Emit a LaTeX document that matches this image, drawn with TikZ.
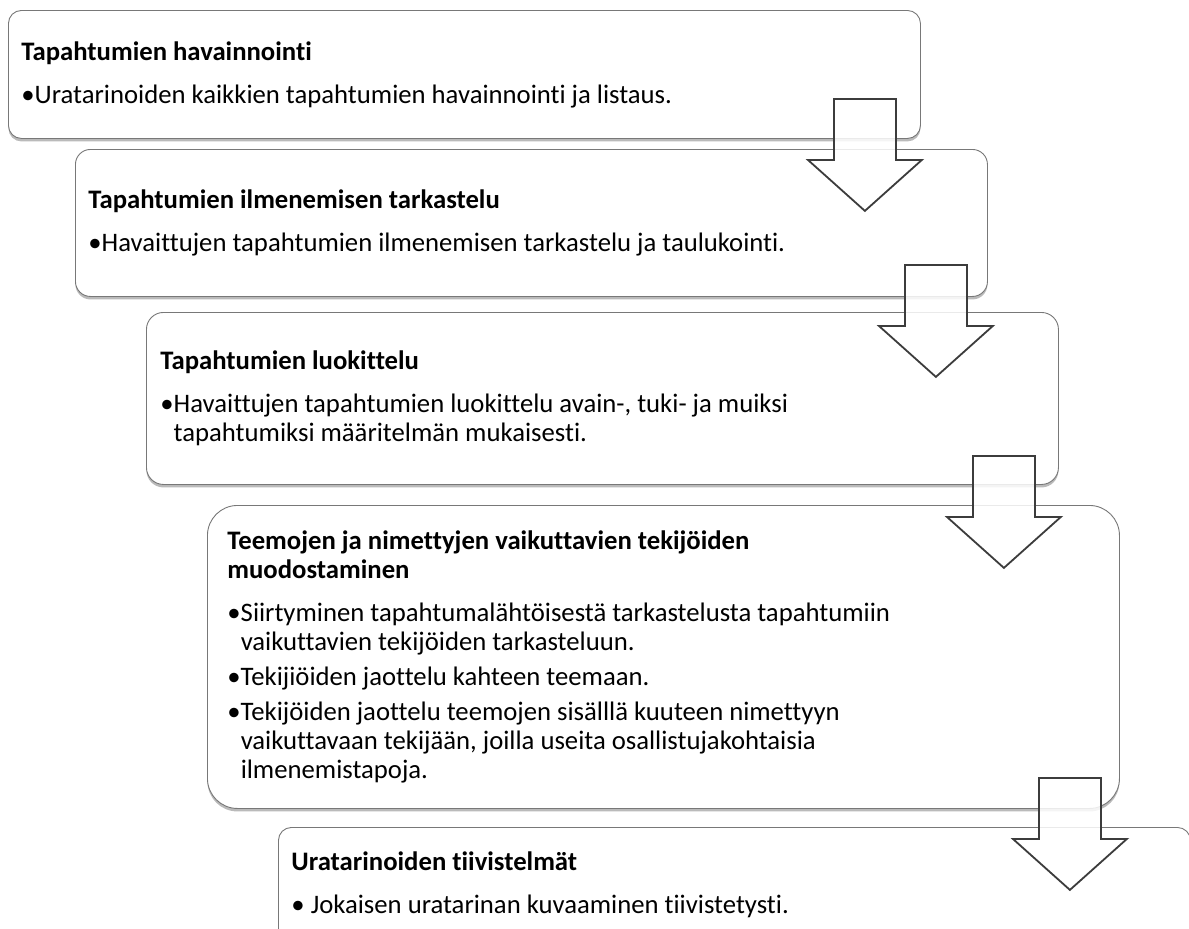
\documentclass[tikz,border=0pt]{standalone}
\usepackage{fontspec}
\setmainfont{Carlito}[Ligatures={NoCommon}]
\usepackage{xcolor}
\definecolor{boxline}{RGB}{120,120,120}
\definecolor{arrline}{RGB}{60,60,60}
\usetikzlibrary{positioning,calc,shadows}

\newlength{\bulw}
\newcommand{\steptext}{\spaceskip=0pt \xspaceskip=0pt \rightskip=0pt plus 1fil\relax}
\newcommand{\bitem}[1]{\par\settowidth{\bulw}{\textbullet}\noindent\hangindent=\bulw\hangafter=1 \textbullet#1\par}

\tikzset{
  stepbox/.style={draw=boxline, line width=0.9pt, fill=white, anchor=north west,
    minimum width=912pt, align=flush left, inner ysep=0pt,
    font=\fontsize{26.7pt}{29pt}\selectfont,
    drop shadow={shadow xshift=0pt, shadow yshift=-3pt, opacity=0.45, fill=black!60}},
  pics/blockarrow/.style={code={
    \draw[arrline, line width=1.8pt, line join=miter, fill=white, fill opacity=0.85]
      (-31,0) -- (-31,61) -- (-57,61) -- (0,112) -- (57,61) -- (31,61) -- (31,0) -- cycle;
  }}
}

\begin{document}
\begin{tikzpicture}[x=1pt, y=-1pt]

\useasboundingbox (0,0) rectangle (1189,929);
\clip (0,0) rectangle (1189,929);

% Steps
\node[stepbox, rounded corners=13pt, inner xsep=13pt, text width=886pt, minimum height=128pt]
  (b1) at (8,10) {\steptext
\textbf{Tapahtumien havainnointi}\par\vspace{14pt}
\bitem{Uratarinoiden kaikkien tapahtumien havainnointi ja listaus.}};

\node[stepbox, rounded corners=15pt, inner xsep=13pt, text width=886pt, minimum height=147pt]
  (b2) at (75,149) {\steptext
\textbf{Tapahtumien ilmenemisen tarkastelu}\par\vspace{14pt}
\bitem{Havaittujen tapahtumien ilmenemisen tarkastelu ja taulukointi.}};

\node[stepbox, rounded corners=17pt, inner xsep=14pt, text width=884pt, minimum height=172pt]
  (b3) at (146,312) {\steptext
\textbf{Tapahtumien luokittelu}\par\vspace{14pt}
\bitem{Havaittujen tapahtumien luokittelu avain-, tuki- ja muiksi\linebreak
tapahtumiksi määritelmän mukaisesti.}};

\node[stepbox, rounded corners=30pt, inner xsep=20pt, text width=872pt, minimum height=303pt]
  (b4) at (207,505) {\steptext
\textbf{Teemojen ja nimettyjen vaikuttavien tekijöiden\linebreak muodostaminen}\par\vspace{14pt}
\bitem{Siirtyminen tapahtumalähtöisestä tarkastelusta tapahtumiin\linebreak
vaikuttavien tekijöiden tarkasteluun.}\vspace{6pt}
\bitem{Tekijiöiden jaottelu kahteen teemaan.}\vspace{6pt}
\bitem{Tekijöiden jaottelu teemojen sisälllä kuuteen nimettyyn\linebreak
vaikuttavaan tekijään, joilla useita osallistujakohtaisia\linebreak
ilmenemistapoja.}};

\node[stepbox, rounded corners=13pt, inner xsep=13pt, text width=886pt, minimum height=114pt]
  (b5) at (278,827) {\steptext
\textbf{Uratarinoiden tiivistelmät}\par\vspace{14pt}
\noindent\textbullet\ Jokaisen uratarinan kuvaaminen tiivistetysti.};

% Arrows between the steps
\pic at ($(b1.south east)+(-56,-40)$) {blockarrow};
\pic at ($(b2.south east)+(-52,-32)$) {blockarrow};
\pic at ($(b3.south east)+(-55,-29)$) {blockarrow};
\pic at ($(b4.south east)+(-50,-31)$) {blockarrow};

\end{tikzpicture}
\end{document}
